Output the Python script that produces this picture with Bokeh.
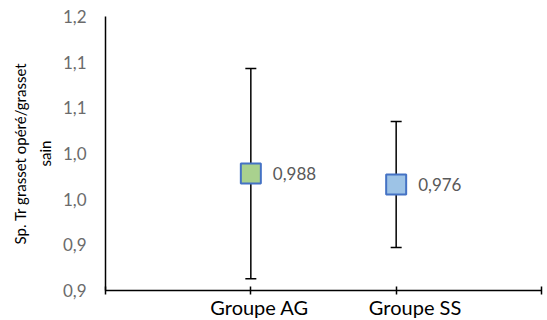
from bokeh.plotting import figure
from bokeh.models import (ColumnDataSource, Range1d, FixedTicker, Whisker, TeeHead,
                          LinearAxis, Title)
from bokeh.core.properties import value
from bokeh.embed import file_html
from bokeh.resources import INLINE

# ---- data ----
groups = ["Groupe AG", "Groupe SS"]
x_pos = [1, 2]
means = [0.988, 0.976]
errors = [0.115, 0.069]
fills = ["#A9D18E", "#9DC3E6"]
y_ticks = [0.86, 0.91, 0.96, 1.01, 1.06, 1.11, 1.16]
y_tick_labels = ["0,9", "0,9", "1,0", "1,0", "1,1", "1,1", "1,2"]
x_ticks = [0, 1, 2, 3]
group_label_x = [1.06, 2.13]
y_title = ["Sp. Tr grasset opéré/grasset", "sain"]

FONT = "Lato"

src = ColumnDataSource(dict(
    x=x_pos,
    y=means,
    lower=[m - e for m, e in zip(means, errors)],
    upper=[m + e for m, e in zip(means, errors)],
    fill=fills,
    lab=[f"{m:.3f}".replace(".", ",") for m in means],
))

p = figure(frame_width=436, frame_height=274,
           min_border_left=105, min_border_right=4, min_border_top=16, min_border_bottom=10,
           x_range=Range1d(0, 3), y_range=Range1d(0.86, 1.16),
           output_backend="svg", toolbar_location=None)
p.outline_line_color = None
p.xgrid.visible = False
p.ygrid.visible = False

# y axis
ya = p.yaxis[0]
ya.ticker = FixedTicker(ticks=y_ticks)
ya.major_label_overrides = dict(zip(y_ticks, y_tick_labels))
ya.major_tick_in = 0
ya.major_tick_out = 0
ya.minor_tick_in = 0
ya.minor_tick_out = 0
ya.axis_line_color = "black"
ya.axis_line_width = 1.5
ya.major_label_text_color = "#6b6b6b"
ya.major_label_text_font = FONT
ya.major_label_text_font_size = "17px"
ya.major_label_standoff = 19

# x axis (line + crossing ticks)
xa = p.xaxis[0]
xa.ticker = FixedTicker(ticks=x_ticks)
xa.major_label_overrides = {t: "" for t in x_ticks}
xa.major_tick_in = 4
xa.major_tick_out = 4
xa.minor_tick_in = 0
xa.minor_tick_out = 0
xa.major_tick_line_color = "black"
xa.major_tick_line_width = 1.5
xa.axis_line_color = "black"
xa.axis_line_width = 1.5
xa.major_label_text_font_size = "0px"
xa.major_label_standoff = 0

# category labels axis
ca = LinearAxis(ticker=FixedTicker(ticks=group_label_x),
                major_label_overrides=dict(zip(group_label_x, groups)),
                axis_line_color=None, major_tick_line_color=None,
                minor_tick_line_color=None, major_tick_in=0, major_tick_out=0,
                minor_tick_in=0, minor_tick_out=0,
                major_label_standoff=0,
                major_label_text_font=FONT, major_label_text_font_size="20px",
                major_label_text_color="black")
p.add_layout(ca, "below")

# y axis title, two lines
p.add_layout(Title(text=y_title[1], align="center", text_font=FONT,
                   text_font_size="15px", text_font_style="normal",
                   text_color="black", standoff=12), "left")
p.add_layout(Title(text=y_title[0], align="center", text_font=FONT,
                   text_font_size="15px", text_font_style="normal",
                   text_color="black", standoff=-2), "left")

# error bars
w = Whisker(base="x", lower="lower", upper="upper", source=src,
            line_color="black", line_width=1.5,
            upper_head=TeeHead(size=11, line_color="black", line_width=1.5),
            lower_head=TeeHead(size=11, line_color="black", line_width=1.5))
p.add_layout(w)

# markers
p.scatter(x="x", y="y", source=src, marker="square", size=20,
          fill_color="fill", line_color="#4472C4", line_width=2)

# data labels
p.text(x="x", y="y", text="lab", source=src, x_offset=22,
       text_align="left", text_baseline="middle",
       text_font=value(FONT), text_font_size="17px", text_color="#595959")

open("out.html", "w").write(file_html(p, INLINE))
